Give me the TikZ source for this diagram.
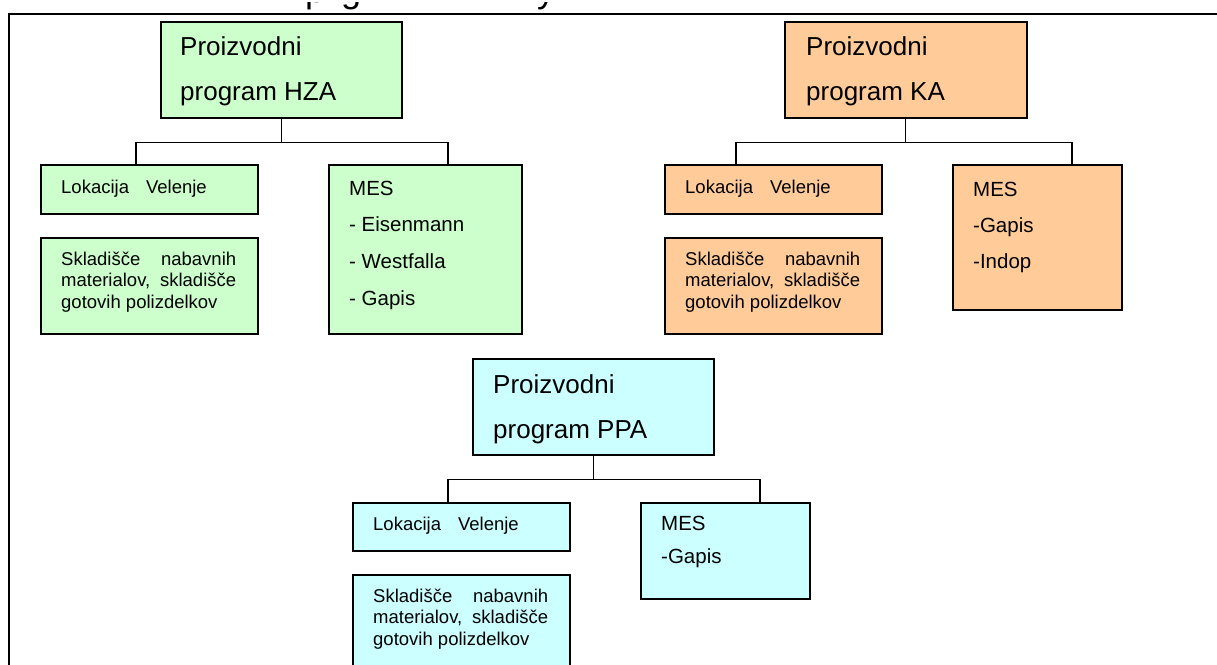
\documentclass[tikz,border=0pt]{standalone}
\usepackage{fontspec}
\setmainfont{Liberation Sans}
\usetikzlibrary{calc}
\definecolor{hzafill}{HTML}{CCFFCC}
\definecolor{kafill}{HTML}{FFCC99}
\definecolor{ppafill}{HTML}{CCFFFF}
% vertical stack of \hbox lines with a given baseline distance; base = first line
\newcommand\linestack[2]{\vtop{\baselineskip=#1\relax\lineskiplimit=-100pt #2}}
\tikzset{
  box/.style={draw=black, line width=1.6pt, inner sep=0pt, anchor=north west},
  txt/.style={anchor=base west, inner sep=0pt},
  headfont/.style={font=\fontsize{26}{45}\selectfont},
  mesfont/.style={font=\fontsize{20.5}{36}\selectfont},
  smallfont/.style={font=\fontsize{18.5}{21.5}\selectfont},
  capfont/.style={font=\fontsize{36}{40}\selectfont},
  link/.style={draw=black, line width=1.3pt},
}
\begin{document}
\begin{tikzpicture}[x=1pt, y=-1pt]
\useasboundingbox (0,0) rectangle (1217,664);
\clip (0,0) rectangle (1217,664);

% caption line above the frame, only the tails of its letters are visible
\begin{scope}
  \clip (0,2.6) rectangle (1217,12.5);
  \node[txt, capfont] (capP) at (305,2.5) {p};
  \node[txt, capfont] (capG) at (341,2.5) {g};
  \node[txt, capfont] (capY) at (537,2.5) {y};
\end{scope}

% outer frame
\draw[line width=2pt] (9,700) -- (9,14) -- (1240,14);

% ---------- HZA ----------
\node[box, fill=hzafill, minimum width=241, minimum height=96] (hza) at (160,21) {};
\node[box, fill=hzafill, minimum width=217, minimum height=49] (hzaLok) at (40,164) {};
\node[box, fill=hzafill, minimum width=217, minimum height=96] (hzaSkl) at (40,237) {};
\node[box, fill=hzafill, minimum width=193, minimum height=169] (hzaMes) at (328,164) {};

\node[txt, headfont] (hzaT) at (180,55) {\linestack{45pt}{\hbox{Proizvodni}\hbox{program HZA}}};
\node[txt, smallfont] (hzaLokT) at (61,193) {Lokacija\kern17pt Velenje};
\node[txt, smallfont] (hzaSklT) at (61,265) {\linestack{21.5pt}{\hbox to 175pt{Skladišče\hfill nabavnih}\hbox to 175pt{materialov,\hfill skladišče}\hbox{gotovih polizdelkov}}};
\node[txt, mesfont] (hzaMesT) at (349,195) {\linestack{36.7pt}{\hbox{MES}\hbox{- Eisenmann}\hbox{- Westfalla}\hbox{- Gapis}}};

\draw[link] (hza.south) -- ++(0,24) coordinate (hzaJ);
\draw[link] ($(hzaLok.north west)+(96,0)$) |- (hzaJ) -| ($(hzaMes.north west)+(120,0)$);

% ---------- KA ----------
\node[box, fill=kafill, minimum width=242, minimum height=96] (ka) at (784,21) {};
\node[box, fill=kafill, minimum width=217, minimum height=49] (kaLok) at (664,164) {};
\node[box, fill=kafill, minimum width=217, minimum height=96] (kaSkl) at (664,237) {};
\node[box, fill=kafill, minimum width=169, minimum height=145] (kaMes) at (952,164) {};

\node[txt, headfont] (kaT) at (806,55) {\linestack{45pt}{\hbox{Proizvodni}\hbox{program KA}}};
\node[txt, smallfont] (kaLokT) at (685,193) {Lokacija\kern17pt Velenje};
\node[txt, smallfont] (kaSklT) at (685,265) {\linestack{21.5pt}{\hbox to 175pt{Skladišče\hfill nabavnih}\hbox to 175pt{materialov,\hfill skladišče}\hbox{gotovih polizdelkov}}};
\node[txt, mesfont] (kaMesT) at (973,196) {\linestack{36pt}{\hbox{MES}\hbox{-Gapis}\hbox{-Indop}}};

\draw[link] (ka.south) -- ++(0,24) coordinate (kaJ);
\draw[link] ($(kaLok.north west)+(72,0)$) |- (kaJ) -| ($(kaMes.north west)+(120,0)$);

% ---------- PPA ----------
\node[box, fill=ppafill, minimum width=241, minimum height=96] (ppa) at (472,358) {};
\node[box, fill=ppafill, minimum width=217, minimum height=48] (ppaLok) at (352,502) {};
\node[box, fill=ppafill, minimum width=217, minimum height=96] (ppaSkl) at (352,574) {};
\node[box, fill=ppafill, minimum width=169, minimum height=96] (ppaMes) at (640,502) {};

\node[txt, headfont] (ppaT) at (493,393) {\linestack{45pt}{\hbox{Proizvodni}\hbox{program PPA}}};
\node[txt, smallfont] (ppaLokT) at (373,530) {Lokacija\kern17pt Velenje};
\node[txt, smallfont] (ppaSklT) at (373,602) {\linestack{21.5pt}{\hbox to 175pt{Skladišče\hfill nabavnih}\hbox to 175pt{materialov,\hfill skladišče}\hbox{gotovih polizdelkov}}};
\node[txt, mesfont] (ppaMesT) at (661,530) {\linestack{33pt}{\hbox{MES}\hbox{-Gapis}}};

\draw[link] (ppa.south) -- ++(0,24) coordinate (ppaJ);
\draw[link] ($(ppaLok.north west)+(96,0)$) |- (ppaJ) -| ($(ppaMes.north west)+(120,0)$);
\end{tikzpicture}
\end{document}
